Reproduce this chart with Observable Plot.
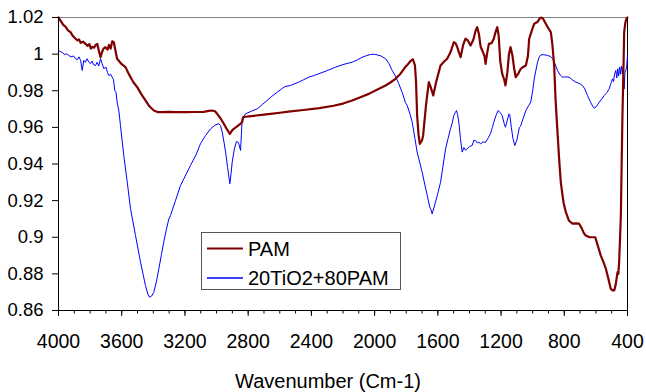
<!DOCTYPE html>
<html><head><meta charset="utf-8">
<script src="https://cdn.jsdelivr.net/npm/d3@7"></script>
<script src="https://cdn.jsdelivr.net/npm/@observablehq/plot@0.6"></script>
<style>
body{margin:0;background:#fff;font-family:"Liberation Sans",Arial,sans-serif}
#wrap{position:relative;width:646px;height:392px;background:#fff}
#cap{position:absolute;left:0;top:358px;width:646px;text-align:center;font-size:20px;line-height:46px;color:#000;padding-left:10px;box-sizing:border-box}
#legend{position:absolute;left:201px;top:232px}
</style></head><body><div id="wrap"></div>
<script>
const seriesNames = ["PAM", "20TiO2+80PAM"];
const seriesColors = ["#800000", "#0000ff"];
const xLabel = "Wavenumber (Cm-1)";
const xTicks = [4000, 3600, 3200, 2800, 2400, 2000, 1600, 1200, 800, 400];
const yTicks = [0.86, 0.88, 0.9, 0.92, 0.94, 0.96, 0.98, 1, 1.02];

const pamPoints = [
[4000,1.020],[3985,1.018],[3970,1.016],[3956,1.015],[3940,1.013],[3924,1.012],[3910,1.010],[3892,1.0084],
[3880,1.0075],[3870,1.0080],[3860,1.0062],[3845,1.0068],[3829,1.0056],[3815,1.0045],[3805,1.0055],[3795,1.0030],
[3787,1.0040],[3775,1.0035],[3765,1.0050],[3755,1.0056],[3745,1.0020],[3734,0.9983],[3725,1.0010],[3715,1.0030],
[3703,1.0038],[3690,1.0025],[3680,1.0050],[3670,1.0030],[3660,1.0070],[3650,1.0065],[3640,1.0020],[3629,0.9975],
[3615,0.9960],[3600,0.9945],[3576,0.9929],[3560,0.9900],[3544,0.9874],[3525,0.9845],[3502,0.9820],[3475,0.9780],
[3450,0.9747],[3425,0.9715],[3397,0.9692],[3370,0.9683],[3344,0.9683],[3300,0.9685],[3260,0.9683],[3200,0.9683],
[3140,0.9684],[3081,0.9685],[3050,0.9690],[3028,0.9692],[3010,0.9688],[2996,0.9674],[2975,0.9650],[2954,0.9620],
[2935,0.9590],[2916,0.9565],[2900,0.9585],[2891,0.9592],[2870,0.9605],[2848,0.9620],[2838,0.9630],[2831,0.9656],
[2815,0.9658],[2796,0.9660],[2700,0.9670],[2659,0.9674],[2600,0.9680],[2532,0.9687],[2450,0.9695],[2350,0.9705],
[2260,0.9718],[2200,0.9730],[2142,0.9747],[2090,0.9765],[2037,0.9783],[1985,0.9805],[1931,0.9829],[1900,0.9845],
[1868,0.9865],[1836,0.9893],[1805,0.9930],[1794,0.9940],[1775,0.9960],[1758,0.9972],[1745,0.9940],[1738,0.9850],
[1731,0.9665],[1722,0.9560],[1714,0.9510],[1700,0.9530],[1693,0.9556],[1675,0.9720],[1657,0.9847],[1645,0.9820],
[1629,0.9774],[1610,0.9850],[1583,0.9938],[1560,0.9960],[1541,0.9975],[1520,1.0010],[1499,1.0065],[1488,1.0060],
[1477,1.0038],[1465,1.0005],[1456,0.9983],[1440,1.0050],[1425,1.0084],[1410,1.0075],[1393,1.0047],[1375,1.0080],
[1360,1.0130],[1351,1.0147],[1340,1.0110],[1329,1.0040],[1319,1.0020],[1305,0.9990],[1298,0.9947],[1287,1.0010],
[1277,1.0056],[1260,1.0060],[1246,1.0084],[1235,1.0120],[1224,1.0147],[1215,1.0100],[1205,0.9960],[1193,0.9893],
[1180,0.9860],[1172,0.9829],[1160,0.9900],[1150,1.0000],[1140,1.0038],[1128,0.9993],[1117,0.9920],[1107,0.9874],
[1090,0.9895],[1075,0.9920],[1060,0.9930],[1043,0.9938],[1030,0.9990],[1022,1.0084],[1005,1.0130],[990,1.0166],
[970,1.0175],[955,1.0195],[948,1.0200],[935,1.0195],[917,1.0166],[900,1.0140],[885,1.0120],[875,1.0050],
[864,0.9938],[855,0.9750],[843,0.9574],[832,0.9420],[822,0.9300],[805,0.9190],[790,0.9137],[770,0.9090],
[748,0.9074],[725,0.9076],[706,0.9074],[690,0.9050],[675,0.9020],[664,0.9010],[640,0.9000],[620,0.9000],
[604,0.9000],[590,0.8960],[569,0.8900],[550,0.8860],[537,0.8828],[520,0.8770],[506,0.8719],[495,0.8710],
[484,0.8710],[475,0.8740],[463,0.8810],[458,0.8800],[453,0.8864],[447,0.9000],[442,0.9119],[437,0.9400],
[432,0.9665],[426,0.9900],[421,1.0120],[414,1.0170],[407,1.0193],[400,1.0200]
];

const tioPoints = [
[4000,1.002],[3990,1.0015],[3975,1.0008],[3960,0.9998],[3948,1.0002],[3935,0.9993],[3920,0.9985],[3905,0.9990],
[3892,0.9975],[3880,0.9970],[3870,0.9985],[3860,0.9965],[3850,0.9911],[3840,0.9966],[3830,0.9955],[3820,0.9975],
[3808,0.9956],[3798,0.9948],[3788,0.9962],[3778,0.9942],[3766,0.9938],[3756,0.9955],[3745,0.9935],[3734,0.9975],
[3725,0.9950],[3713,0.9920],[3700,0.9930],[3690,0.9900],[3682,0.9883],[3670,0.9890],[3660,0.9874],[3652,0.9860],
[3644,0.9801],[3636,0.9790],[3629,0.9738],[3618,0.9690],[3608,0.9610],[3587,0.9447],[3565,0.9300],[3544,0.9155],
[3513,0.9010],[3481,0.8864],[3450,0.8737],[3435,0.8690],[3424,0.8673],[3410,0.8680],[3397,0.8700],[3380,0.8760],
[3365,0.8828],[3350,0.8900],[3334,0.8973],[3318,0.9040],[3302,0.9100],[3291,0.9119],[3260,0.9200],[3228,0.9283],
[3195,0.9340],[3165,0.9392],[3130,0.9450],[3102,0.9510],[3070,0.9555],[3038,0.9592],[3010,0.9612],[2986,0.9620],
[2975,0.9610],[2964,0.9574],[2953,0.9520],[2943,0.9465],[2930,0.9380],[2916,0.9292],[2908,0.9350],[2901,0.9410],
[2888,0.9480],[2874,0.9523],[2865,0.9520],[2859,0.9510],[2848,0.9474],[2843,0.9560],[2838,0.9647],[2817,0.9674],
[2780,0.9688],[2743,0.9701],[2710,0.9725],[2680,0.9747],[2650,0.9770],[2616,0.9792],[2570,0.9822],[2532,0.9829],
[2480,0.9847],[2450,0.9860],[2416,0.9874],[2380,0.9884],[2353,0.9893],[2300,0.9910],[2247,0.9929],[2200,0.9943],
[2142,0.9956],[2110,0.9968],[2079,0.9983],[2050,0.9992],[2026,0.9998],[2000,0.9999],[1984,0.9996],[1960,0.9990],
[1931,0.9975],[1910,0.9950],[1889,0.9911],[1868,0.9880],[1847,0.9838],[1825,0.9790],[1805,0.9735],[1794,0.9720],
[1775,0.9670],[1762,0.9628],[1745,0.9540],[1731,0.9465],[1715,0.9410],[1699,0.9355],[1683,0.9290],[1667,0.9228],
[1651,0.9164],[1643,0.9150],[1636,0.9128],[1625,0.9160],[1615,0.9192],[1600,0.9240],[1583,0.9300],[1567,0.9390],
[1551,0.9483],[1535,0.9540],[1520,0.9592],[1510,0.9620],[1499,0.9665],[1490,0.9680],[1482,0.9692],[1475,0.9670],
[1467,0.9628],[1457,0.9540],[1446,0.9465],[1435,0.9490],[1425,0.9475],[1414,0.9483],[1400,0.9495],[1383,0.9501],
[1372,0.9530],[1362,0.9528],[1350,0.9515],[1340,0.9520],[1330,0.9510],[1315,0.9520],[1298,0.9519],[1283,0.9540],
[1267,0.9565],[1255,0.9600],[1246,0.9628],[1232,0.9665],[1218,0.9692],[1205,0.9680],[1193,0.9665],[1180,0.9620],
[1172,0.9601],[1160,0.9640],[1150,0.9674],[1145,0.9670],[1135,0.9600],[1125,0.9540],[1113,0.9501],[1100,0.9530],
[1084,0.9600],[1077,0.9605],[1060,0.9650],[1043,0.9692],[1025,0.9720],[1012,0.9738],[1000,0.9800],[990,0.9865],
[980,0.9910],[969,0.9956],[958,0.9985],[948,0.9996],[930,0.9997],[906,0.9993],[890,0.9988],[874,0.9975],
[860,0.9950],[843,0.9911],[825,0.9885],[811,0.9874],[790,0.9876],[769,0.9874],[750,0.9860],[727,0.9847],
[705,0.9840],[685,0.9829],[670,0.9810],[653,0.9774],[635,0.9740],[620,0.9715],[611,0.9705],[595,0.9715],
[579,0.9738],[563,0.9755],[547,0.9774],[530,0.9790],[516,0.9810],[505,0.9840],[495,0.9865],[488,0.9850],
[482,0.9890],[474,0.9911],[468,0.9870],[462,0.9920],[456,0.9880],[450,0.9930],[444,0.9890],[438,0.9935],
[432,0.9890],[427,0.9930],[421,0.9810],[416,0.9900],[411,0.9910],[405,0.9930],[400,0.9993]
];

const xMinor = d3.range(400, 4001, 100);
const xDomain = [xTicks[0], xTicks[xTicks.length - 1]];
const yDomain = [yTicks[0], yTicks[yTicks.length - 1]];

const chart = Plot.plot({
  width: 646, height: 358,
  marginLeft: 58, marginRight: 19, marginTop: 17, marginBottom: 48,
  x: {domain: xDomain},
  y: {domain: yDomain},
  style: {fontFamily: "'Liberation Sans', Arial, sans-serif", fontSize: "18.5px", color: "#000", background: "#fff", overflow: "visible"},
  marks: [
    Plot.ruleY([yDomain[1]], {stroke: "#808080"}),
    Plot.ruleX([xDomain[1]], {stroke: "#000"}),
    Plot.line(tioPoints, {x: d => d[0], y: d => d[1], stroke: seriesColors[1], strokeWidth: 1}),
    Plot.line(pamPoints, {x: d => d[0], y: d => d[1], stroke: seriesColors[0], strokeWidth: 2.2}),
    Plot.axisY({ticks: yTicks, tickSize: 6, tickPadding: 9, tickFormat: d => String(d), label: null}),
    Plot.axisX({ticks: xMinor, tickSize: 3.5, tickFormat: () => "", label: null}),
    Plot.axisX({ticks: xTicks, tickSize: 6, tickPadding: 18, tickFormat: d => String(d), label: null, fontSize: "19.5px"}),
    Plot.ruleX([xDomain[0]], {stroke: "#000"}),
    Plot.ruleY([yDomain[0]], {stroke: "#000"})
  ]
});

const wrap = document.getElementById("wrap");
wrap.appendChild(chart);

const cap = document.createElement("div");
cap.id = "cap";
cap.textContent = xLabel;
wrap.appendChild(cap);

const ns = "http://www.w3.org/2000/svg";
const leg = document.createElementNS(ns, "svg");
leg.setAttribute("id", "legend");
leg.setAttribute("width", 201);
leg.setAttribute("height", 58);
leg.style.fontFamily = "'Liberation Sans', Arial, sans-serif";
const box = document.createElementNS(ns, "rect");
box.setAttribute("x", 0.5); box.setAttribute("y", 0.5);
box.setAttribute("width", 199); box.setAttribute("height", 57);
box.setAttribute("fill", "#fff"); box.setAttribute("stroke", "#555");
leg.appendChild(box);
seriesNames.forEach((name, i) => {
  const yy = 16.5 + i * 29.5;
  const ln = document.createElementNS(ns, "line");
  ln.setAttribute("x1", 6); ln.setAttribute("x2", 42);
  ln.setAttribute("y1", yy); ln.setAttribute("y2", yy);
  ln.setAttribute("stroke", seriesColors[i]);
  ln.setAttribute("stroke-width", i === 0 ? 2 : 1.5);
  leg.appendChild(ln);
  const tx = document.createElementNS(ns, "text");
  tx.setAttribute("x", 47); tx.setAttribute("y", yy);
  tx.setAttribute("dy", "0.36em");
  tx.setAttribute("font-size", "20px");
  tx.textContent = name;
  leg.appendChild(tx);
});
wrap.appendChild(leg);
</script></body></html>
